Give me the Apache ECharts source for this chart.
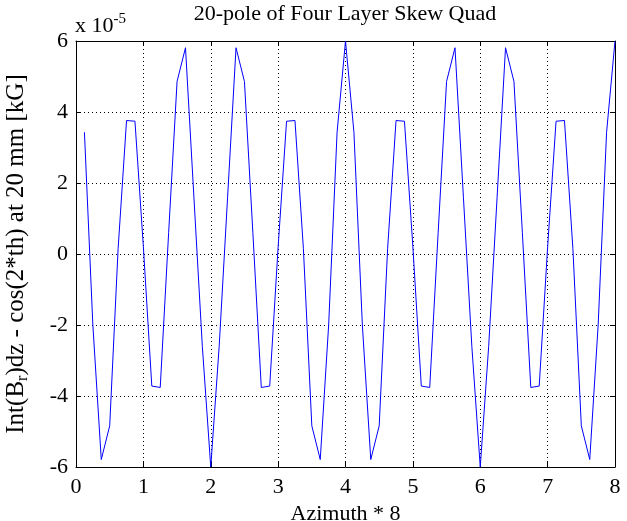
<!DOCTYPE html>
<html><head><meta charset="utf-8">
<script src="https://cdn.jsdelivr.net/npm/echarts@6.0.0/dist/echarts.min.js"></script>
<style>html,body{margin:0;padding:0;background:#fff}#c{width:627px;height:521px}</style>
</head><body><div id="c"></div>
<script>
// Azimuth * 8 sample positions
const azimuth = [0.125,0.25,0.375,0.5,0.625,0.75,0.875,1,1.125,1.25,1.375,1.5,1.625,1.75,1.875,2,
 2.125,2.25,2.375,2.5,2.625,2.75,2.875,3,3.125,3.25,3.375,3.5,3.625,3.75,3.875,4,
 4.125,4.25,4.375,4.5,4.625,4.75,4.875,5,5.125,5.25,5.375,5.5,5.625,5.75,5.875,6,
 6.125,6.25,6.375,6.5,6.625,6.75,6.875,7,7.125,7.25,7.375,7.5,7.625,7.75,7.875,8];
// residual, units of 1e-5 kG
const residual = [3.43,-2.0,-5.79,-4.84,0.15,3.76,3.74,0.2,-3.72,-3.76,0.6,4.86,5.81,1.6,-2.6,-6.0,
 -2.6,1.6,5.81,4.86,0.6,-3.76,-3.72,0.2,3.74,3.76,0.15,-4.84,-5.79,-2.0,3.43,6.0,
 3.43,-2.0,-5.79,-4.84,0.15,3.76,3.74,0.2,-3.72,-3.76,0.6,4.86,5.81,1.6,-2.6,-6.0,
 -2.6,1.6,5.81,4.86,0.6,-3.76,-3.72,0.2,3.74,3.76,0.15,-4.84,-5.79,-2.0,3.43,6.0];
const xTicks = [0,1,2,3,4,5,6,7,8];
const yTicks = [-6,-4,-2,0,2,4,6];
const titleText = '20-pole of Four Layer Skew Quad';
const xName = 'Azimuth * 8';

const F = '"Liberation Serif", "Times New Roman", serif';
const FS = 22;
const YFS = 25;
const chart = echarts.init(document.getElementById('c'));
const dotted = {color: '#000', width: 1, type: [1, 3]};
const baseX = {
  type: 'value', min: xTicks[0], max: xTicks[xTicks.length-1], interval: 1,
  axisLine: {show: true, onZero: false, lineStyle: {color: '#000', width: 1}},
  axisTick: {show: true, inside: true, length: 5, lineStyle: {color: '#000'}},
  splitLine: {show: false}
};
const baseY = {
  type: 'value', min: yTicks[0], max: yTicks[yTicks.length-1], interval: 2,
  axisLine: {show: true, onZero: false, lineStyle: {color: '#000', width: 1}},
  axisTick: {show: true, inside: true, length: 5, lineStyle: {color: '#000'}},
  splitLine: {show: false}
};
chart.setOption({
  animation: false,
  backgroundColor: '#fff',
  grid: {left: 76, right: 12, top: 41, bottom: 54, containLabel: false, outerBoundsMode: 'none'},
  xAxis: [
    Object.assign({}, baseX, {
      position: 'bottom',
      splitLine: {show: true, lineStyle: dotted},
      axisLabel: {color: '#000', fontFamily: F, fontSize: FS, margin: 9},
      name: xName, nameLocation: 'middle', nameGap: 36,
      nameTextStyle: {color: '#000', fontFamily: F, fontSize: FS}
    }),
    Object.assign({}, baseX, {position: 'top', axisLabel: {show: false}})
  ],
  yAxis: [
    Object.assign({}, baseY, {
      position: 'left',
      splitLine: {show: true, lineStyle: dotted},
      axisLabel: {color: '#000', fontFamily: F, fontSize: FS, margin: 8},
      name: '{a|Int(B}{s|r}{a|)dz - cos(2*th) at 20 mm [kG]}',
      nameLocation: 'middle', nameGap: 45, nameRotate: 90,
      nameTextStyle: {color: '#000', fontFamily: F, fontSize: YFS,
        rich: {a: {fontFamily: F, fontSize: YFS, color: '#000'},
               s: {fontFamily: F, fontSize: 16, color: '#000', padding: [14, 0, 0, 0]}}}
    }),
    Object.assign({}, baseY, {position: 'right', axisLabel: {show: false}})
  ],
  series: [{
    type: 'line', xAxisIndex: 0, yAxisIndex: 0,
    data: azimuth.map((x, i) => [x, residual[i]]),
    showSymbol: false, symbol: 'none',
    lineStyle: {color: '#0000ff', width: 1},
    clip: true
  }],
  graphic: [
    {type: 'text', x: 345, y: 3, style: {text: titleText, font: FS + 'px ' + F, fill: '#000', align: 'center'}},
    {type: 'text', x: 75, y: 12, style: {text: '{a|x 10}{s|-5}', fill: '#000',
      rich: {a: {font: FS + 'px ' + F, fill: '#000'}, s: {font: '15px ' + F, fill: '#000', padding: [0,0,13,0]}}}}
  ]
});
</script></body></html>
